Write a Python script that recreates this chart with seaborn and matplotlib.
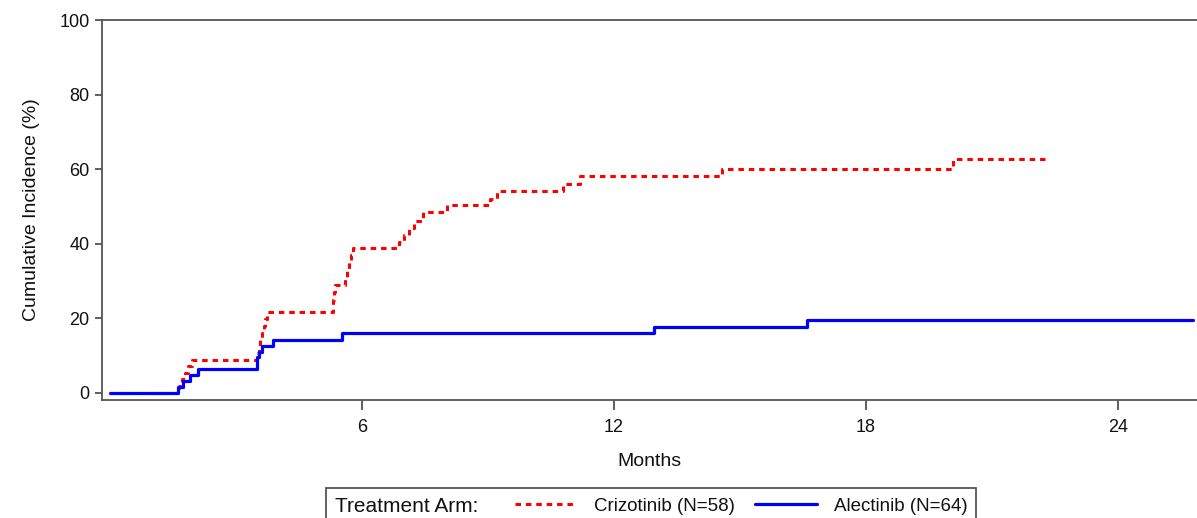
import numpy as np
import pandas as pd
import matplotlib
matplotlib.use("Agg")
import matplotlib.pyplot as plt
from matplotlib.patches import Rectangle
import seaborn as sns

# Crizotinib (N=58) cumulative incidence step points (months, %)
criz_months = [0.0, 1.65, 1.72, 1.79, 1.86, 1.95, 3.50, 3.54, 3.58, 3.62, 3.66, 3.70, 3.74,
               5.31, 5.34, 5.36, 5.60, 5.65, 5.69, 5.74, 5.79, 6.87, 7.00, 7.12, 7.25, 7.45,
               8.02, 9.05, 9.22, 10.79, 11.19, 14.56, 20.07, 22.26]
criz_inc = [0.0, 1.9, 3.6, 5.3, 7.2, 8.9, 10.7, 12.5, 14.3, 16.1, 17.9, 19.8, 21.6,
            25.0, 27.0, 29.0, 31.0, 33.0, 35.0, 37.0, 38.8, 40.6, 42.4, 44.2, 46.0, 48.4,
            50.3, 52.1, 54.1, 56.1, 58.1, 60.1, 62.7, 62.7]

# Alectinib (N=64)
alec_months = [0.0, 1.62, 1.74, 1.90, 2.10, 3.49, 3.51, 3.54, 3.62, 3.87, 5.52, 12.95, 16.59, 25.78]
alec_inc = [0.0, 1.6, 3.2, 4.8, 6.4, 7.9, 9.5, 11.1, 12.7, 14.3, 16.0, 17.8, 19.5, 19.5]

x_ticks = [6, 12, 18, 24]
y_ticks = [0, 20, 40, 60, 80, 100]
labels = ["Crizotinib (N=58)", "Alectinib (N=64)"]

sns.set_theme(style="ticks")
plt.rcParams["font.family"] = ["Liberation Sans", "DejaVu Sans"]
plt.rcParams["text.color"] = "#111111"
plt.rcParams["axes.labelcolor"] = "#111111"
plt.rcParams["xtick.labelcolor"] = "#111111"
plt.rcParams["ytick.labelcolor"] = "#111111"

fig = plt.figure(figsize=(11.97, 5.18), dpi=100)
ax = fig.add_axes([102 / 1197, 1 - 400 / 518, 1 - 102 / 1197, (400 - 20) / 518])

criz = pd.DataFrame({"Months": criz_months, "Incidence": criz_inc})
alec = pd.DataFrame({"Months": alec_months, "Incidence": alec_inc})

sns.lineplot(data=criz, x="Months", y="Incidence", ax=ax, estimator=None, sort=False,
             drawstyle="steps-post", color="#ff0000", linewidth=2.2,
             linestyle=(0, (1.8, 1.6)), label=labels[0])
sns.lineplot(data=alec, x="Months", y="Incidence", ax=ax, estimator=None, sort=False,
             drawstyle="steps-post", color="#0000ff", linewidth=2.3,
             label=labels[1])

ax.set_xlim(-0.19, 25.88)
ax.set_ylim(-1.9, 100)
ax.set_xticks(x_ticks)
ax.set_yticks(y_ticks)
ax.set_xlabel("Months", fontsize=14, labelpad=12)
ax.set_ylabel("Cumulative Incidence (%)", fontsize=14, labelpad=14)
ax.tick_params(axis="x", labelsize=13, length=7, width=1.2, pad=7, color="#444444")
ax.tick_params(axis="y", labelsize=13, length=5, width=1.2, pad=4, color="#444444")
for side in ["left", "bottom", "top"]:
    ax.spines[side].set_color("#555555")
    ax.spines[side].set_linewidth(1.3)
ax.spines["right"].set_visible(False)

handles, labs = ax.get_legend_handles_labels()
ax.get_legend().remove()
fig.legend(handles, labs, loc="center left", bbox_to_anchor=(515 / 1197, 1 - 506 / 518),
           ncol=2, frameon=False, fontsize=13.5, handlelength=3.3, handletextpad=0.9,
           columnspacing=1.1, borderpad=0, borderaxespad=0)
fig.text(335 / 1197, 1 - 506 / 518, "Treatment Arm:", fontsize=15, va="center", ha="left")
fig.add_artist(Rectangle((326 / 1197, -0.1), (976 - 326) / 1197, 0.1 + 1 - 488 / 518,
                         transform=fig.transFigure, fill=False, edgecolor="#555555",
                         linewidth=1.3))

fig.savefig("out.png", dpi=100)
